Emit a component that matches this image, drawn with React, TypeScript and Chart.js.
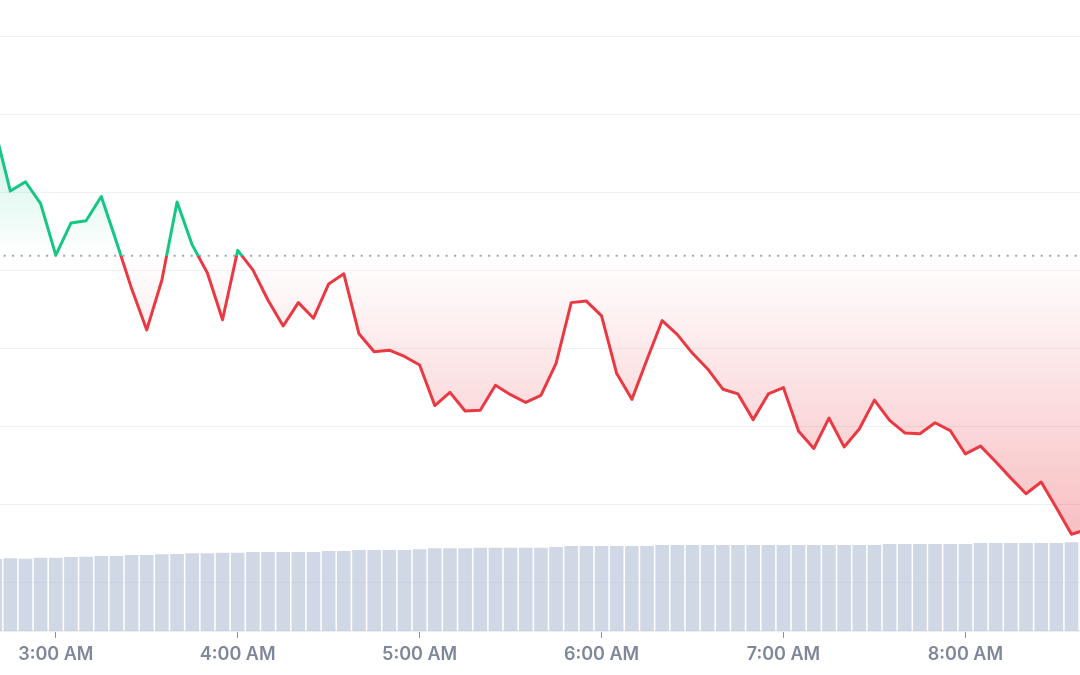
import React, { useEffect, useRef } from "react";
import { Chart, registerables } from "chart.js";

Chart.register(...registerables);

// 5-minute sample times (local time, AM)
const times = [
  "2:40", "2:45", "2:50", "2:55",
  "3:00", "3:05", "3:10", "3:15", "3:20", "3:25", "3:30", "3:35", "3:40", "3:45", "3:50", "3:55",
  "4:00", "4:05", "4:10", "4:15", "4:20", "4:25", "4:30", "4:35", "4:40", "4:45", "4:50", "4:55",
  "5:00", "5:05", "5:10", "5:15", "5:20", "5:25", "5:30", "5:35", "5:40", "5:45", "5:50", "5:55",
  "6:00", "6:05", "6:10", "6:15", "6:20", "6:25", "6:30", "6:35", "6:40", "6:45", "6:50", "6:55",
  "7:00", "7:05", "7:10", "7:15", "7:20", "7:25", "7:30", "7:35", "7:40", "7:45", "7:50", "7:55",
  "8:00", "8:05", "8:10", "8:15", "8:20", "8:25", "8:30", "8:35", "8:40",
];

// price (USD)
const prices = [
  64180, 64102, 64114, 64086,
  64020, 64061, 64064, 64095, 64037, 63977, 63924, 63988, 64088, 64033, 63997, 63937,
  64026, 64001, 63962, 63929, 63959, 63939, 63983, 63996, 63919, 63896, 63898, 63890,
  63879, 63827, 63844, 63820, 63821, 63853, 63841, 63831, 63840, 63881, 63959, 63961,
  63942, 63868, 63835, 63886, 63936, 63918, 63894, 63874, 63848, 63842, 63809, 63842,
  63850, 63794, 63772, 63811, 63774, 63797, 63834, 63808, 63792, 63791, 63805, 63795,
  63765, 63775, 63755, 63734, 63714, 63729, 63696, 63662, 63668,
];

// 24h volume (billions USD)
const volumes = [
  11.41, 11.52, 11.46, 11.62,
  11.62, 11.73, 11.77, 11.89, 11.89, 12.04, 12.04, 12.16, 12.2, 12.31, 12.31, 12.41,
  12.41, 12.52, 12.52, 12.52, 12.52, 12.52, 12.68, 12.68, 12.84, 12.84, 12.84, 12.84,
  12.95, 13.11, 13.11, 13.11, 13.2, 13.2, 13.2, 13.2, 13.2, 13.31, 13.47, 13.47,
  13.47, 13.47, 13.47, 13.47, 13.63, 13.63, 13.63, 13.63, 13.63, 13.63, 13.63, 13.63,
  13.63, 13.63, 13.63, 13.63, 13.63, 13.63, 13.63, 13.79, 13.79, 13.79, 13.79, 13.79,
  13.79, 13.95, 13.95, 13.95, 13.95, 13.95, 13.95, 14.06, 14.1,
];

const baselinePrice = 64019;
const hourTicks = ["3:00", "4:00", "5:00", "6:00", "7:00", "8:00"];
const tickLabels = ["3:00 AM", "4:00 AM", "5:00 AM", "6:00 AM", "7:00 AM", "8:00 AM"];
const priceGridLines = [63600, 63700, 63800, 63900, 64000, 64100, 64200, 64300];

// visible window
const viewStart = "2:41.6";
const viewEnd = "8:37.8";
const priceMin = 63538;
const priceMax = 64347;
const volumeMax = 100;

const GREEN = "#16c784";
const RED = "#ea3943";

function toMinutes(t: string): number {
  const [h, m] = t.split(":");
  return Number(h) * 60 + Number(m);
}

export default function App() {
  const canvasRef = useRef<HTMLCanvasElement | null>(null);

  useEffect(() => {
    if (!canvasRef.current) return;
    const xs = times.map(toMinutes);
    const priceData = xs.map((x, i) => ({ x, y: prices[i] }));
    const volData = xs.map((x, i) => ({ x, y: volumes[i] }));
    const baseData = [
      { x: xs[0], y: baselinePrice },
      { x: xs[xs.length - 1], y: baselinePrice },
    ];
    const pMax = Math.max(...prices);
    const pMin = Math.min(...prices);

    const chart = new Chart(canvasRef.current, {
      type: "line",
      data: {
        datasets: [
          {
            type: "line",
            data: priceData,
            order: 0,
            yAxisID: "y",
            borderWidth: 3,
            pointRadius: 0,
            tension: 0,
            borderJoinStyle: "round",
            borderCapStyle: "round",
            fill: { target: { value: baselinePrice } },
            borderColor: (ctx: any) => {
              const chart = ctx.chart;
              const area = chart.chartArea;
              if (!area) return GREEN;
              const yB = chart.scales.y.getPixelForValue(baselinePrice);
              const g = chart.ctx.createLinearGradient(0, area.top, 0, area.bottom);
              const s = Math.min(1, Math.max(0, (yB - area.top) / (area.bottom - area.top)));
              g.addColorStop(0, GREEN);
              g.addColorStop(s, GREEN);
              g.addColorStop(s, RED);
              g.addColorStop(1, RED);
              return g;
            },
            backgroundColor: (ctx: any) => {
              const chart = ctx.chart;
              const area = chart.chartArea;
              if (!area) return "transparent";
              const ys = chart.scales.y;
              const yTop = ys.getPixelForValue(pMax);
              const yBot = ys.getPixelForValue(pMin);
              const yB = ys.getPixelForValue(baselinePrice);
              const g = chart.ctx.createLinearGradient(0, yTop, 0, yBot);
              const s = Math.min(1, Math.max(0, (yB - yTop) / (yBot - yTop)));
              g.addColorStop(0, "rgba(22,199,132,0.22)");
              g.addColorStop(s, "rgba(22,199,132,0)");
              g.addColorStop(s, "rgba(234,57,67,0)");
              g.addColorStop(1, "rgba(234,57,67,0.32)");
              return g;
            },
          } as any,
          {
            type: "line",
            data: baseData,
            order: 1,
            yAxisID: "y",
            borderColor: "#9ea5b6",
            borderWidth: 2,
            borderDash: [2, 6.5],
            pointRadius: 0,
            fill: false,
          } as any,
          {
            type: "bar",
            data: volData,
            order: 2,
            yAxisID: "y1",
            backgroundColor: "rgba(176,188,211,0.6)",
            borderWidth: 0,
            categoryPercentage: 1,
            barPercentage: 0.9,
          } as any,
        ],
      },
      options: {
        animation: false,
        responsive: true,
        maintainAspectRatio: false,
        layout: { padding: 0 },
        plugins: {
          legend: { display: false },
          tooltip: { enabled: false },
        },
        events: [],
        scales: {
          x: {
            type: "linear",
            offset: false,
            min: toMinutes(viewStart),
            max: toMinutes(viewEnd),
            afterBuildTicks: (scale: any) => {
              scale.ticks = hourTicks.map((t) => ({ value: toMinutes(t) }));
            },
            afterFit: (scale: any) => {
              scale.height = 44;
            },
            ticks: {
              autoSkip: false,
              maxRotation: 0,
              padding: 5.5,
              color: "#7f879a",
              font: { family: "Inter", size: 18, weight: "600" },
              callback: (_v: any, i: number) => tickLabels[i],
            },
            grid: {
              offset: false,
              drawOnChartArea: false,
              drawTicks: true,
              tickLength: 7,
              color: "#8a92a5",
            },
            border: { display: true, color: "#eef0f4", width: 2 },
          },
          y: {
            type: "linear",
            position: "left",
            min: priceMin,
            max: priceMax,
            afterBuildTicks: (scale: any) => {
              scale.ticks = priceGridLines.map((v) => ({ value: v }));
            },
            afterFit: (scale: any) => {
              scale.width = 0;
            },
            ticks: { display: false },
            grid: { color: "#eff2f5", drawTicks: false, lineWidth: 1 },
            border: { display: false },
          },
          y1: {
            type: "linear",
            position: "right",
            display: false,
            min: 0,
            max: volumeMax,
          },
        },
      } as any,
    });
    return () => chart.destroy();
  }, []);

  return (
    <div style={{ position: "fixed", left: 0, top: 0, width: 1080, height: 675, background: "#fff" }}>
      <canvas ref={canvasRef} />
    </div>
  );
}
